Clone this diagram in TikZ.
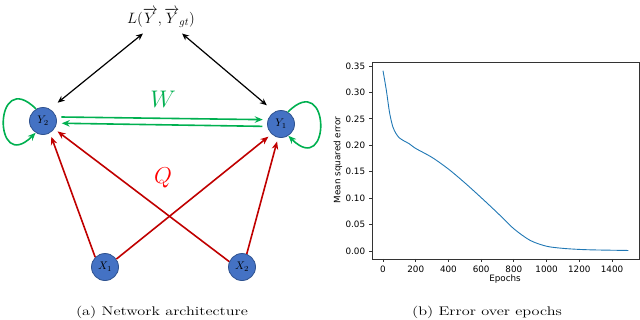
\RequirePackage{fix-cm}
\documentclass[tikz,border=0pt]{standalone}
\usepackage{fontspec}
\newfontfamily\plotfont{DejaVu Sans}
\usepackage{tikz}
\usetikzlibrary{arrows.meta, calc}
\definecolor{unitblue}{HTML}{4472C4}
\definecolor{unitedge}{HTML}{2F528F}
\definecolor{recgreen}{HTML}{00B050}
\definecolor{inred}{HTML}{C00000}
\definecolor{qred}{HTML}{FF0000}
\definecolor{curveblue}{HTML}{1F77B4}
\newcommand{\widecap}[1]{\scalebox{1.3}[1]{#1}}
\begin{document}
\begin{tikzpicture}[x=1pt, y=1pt,
  every node/.style={inner sep=1pt},
  unit/.style={
    circle, draw=unitedge, fill=unitblue, line width=0.8pt,
    minimum size=27pt, inner sep=0pt, font=\fontsize{11}{13}\selectfont
  },
  lossarrow/.style={{Stealth[length=7pt,width=6pt]}-{Stealth[length=7pt,width=6pt]}, line width=1.2pt, shorten >=10pt},
  recarrow/.style={-{Stealth[length=8pt,width=6.5pt]}, recgreen, line width=1.6pt},
  inarrow/.style={-{Stealth[length=8pt,width=6.5pt]}, inred, line width=1.6pt, shorten >=4pt},
  axisframe/.style={draw=black!80, line width=0.8pt},
  ticklabel/.style={inner sep=0pt},
  caption/.style={font=\fontsize{12.5}{15}\selectfont}
]
  \useasboundingbox (0,0) rectangle (640,-319);

  % network
  \node[unit] (Y2) at (43,-121) {$Y_2$};
  \node[unit] (Y1) at (281,-124) {$Y_1$};
  \node[unit] (X1) at (105,-267) {$X_1$};
  \node[unit] (X2) at (242,-267) {$X_2$};
  \node[anchor=base, font=\fontsize{15}{18}\selectfont] (loss) at (161,-23)
    {$L(\overrightarrow{Y},\overrightarrow{Y}_{gt})$};
  \node[text=recgreen, font=\fontsize{24}{28}\selectfont] (wlabel) at (163,-99) {$W$};
  \node[text=qred, font=\fontsize{23}{27}\selectfont] (qlabel) at (163,-178) {$Q$};

  \draw[lossarrow] ([xshift=-18pt,yshift=-5pt]loss.south) -- (Y2.60);
  \draw[lossarrow] ([xshift=21pt,yshift=-5pt]loss.south) -- (Y1.118);

  \draw[recarrow, shorten <=5pt, shorten >=5pt] (Y2.17) -- (Y1.162);
  \draw[recarrow, shorten <=5pt, shorten >=5pt] (Y1.-170) -- (Y2.-9);
  \draw[recarrow] (Y2.120) to[out=135, in=225, looseness=6.5] (Y2.238);
  \draw[recarrow] (Y1.60) to[out=45, in=-45, looseness=6.5] (Y1.-58);

  \draw[inarrow] (X1.135) -- (Y2.-60);
  \draw[inarrow] (X1.35) -- (Y1.-133);
  \draw[inarrow] (X2.157) -- (Y2.-35);
  \draw[inarrow] (X2.70) -- (Y1.-102);

  \node[caption, anchor=base] (capa) at (162,-315) {\widecap{(a) Network architecture}};

  % error plot
  \begin{scope}[shift={(383,-251)}, x=0.1636pt, y=528.6pt, font=\plotfont\fontsize{8.8}{10}\selectfont]
    \draw[axisframe] (-67.2,-0.0151) rectangle (1565,0.3575);
    \foreach \ep in {0,200,...,1400}
      \draw[axisframe] (\ep,-0.0151) -- ++(0pt,-3.5pt)
        node[ticklabel, anchor=north, yshift=-3pt] (xt\ep) {\ep};
    \foreach \v [count=\i] in {0.00,0.05,0.10,0.15,0.20,0.25,0.30,0.35}
      \draw[axisframe] (-67.2,\v) -- ++(-3.5pt,0pt)
        node[ticklabel, anchor=east, xshift=-3pt] (yt\i) {\v};
    \node (xlab) at (746,-0.053) {Epochs};
    \node[rotate=90] (ylab) at (-275,0.172) {Mean squared error};
    \draw[curveblue, line width=0.9pt] plot[smooth, tension=0.5] coordinates {
      (0,0.341) (20,0.305) (40,0.262) (60,0.235) (80,0.222) (100,0.214)
      (130,0.208) (160,0.203) (200,0.194) (300,0.177) (400,0.155)
      (500,0.129) (600,0.101) (700,0.072) (800,0.042) (900,0.020)
      (1000,0.009) (1100,0.005) (1200,0.003) (1300,0.002) (1500,0.001)};
  \end{scope}

  \node[caption, anchor=base] (capb) at (487,-315) {\widecap{(b) Error over epochs}};
\end{tikzpicture}
\end{document}
